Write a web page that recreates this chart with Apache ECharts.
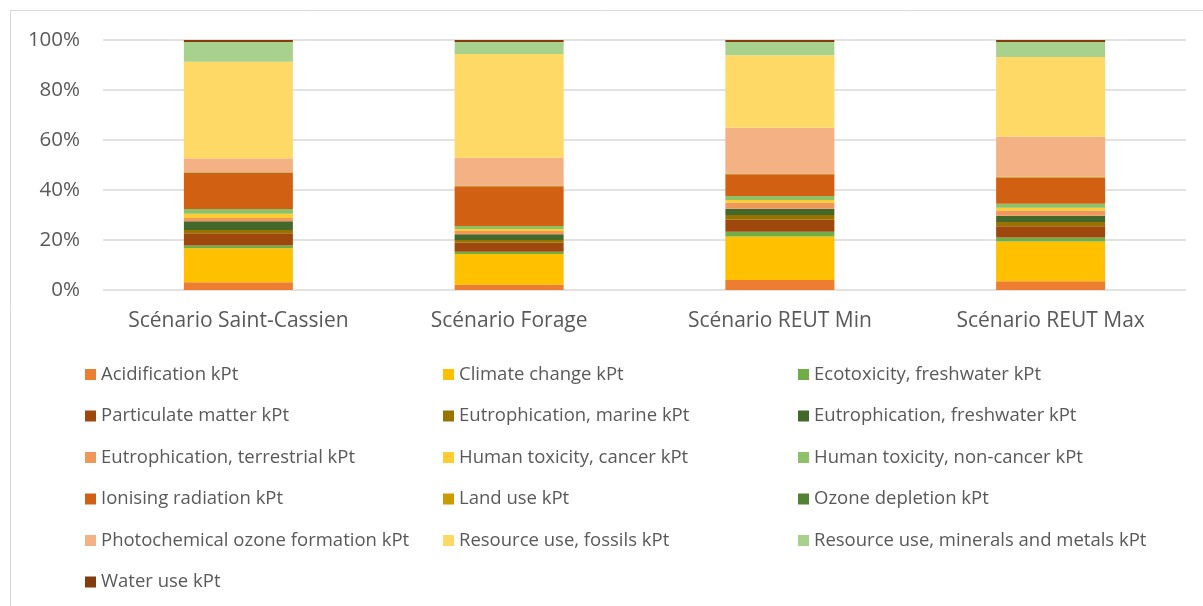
<!DOCTYPE html>
<html>
<head>
<meta charset="utf-8">
<script src="https://cdn.jsdelivr.net/npm/echarts@6/dist/echarts.min.js"></script>
<style>
  html, body { margin: 0; padding: 0; background: #fff; }
  #chart { width: 1203px; height: 606px; }
</style>
</head>
<body>
<div id="chart"></div>
<script>
// scenarios on the x axis
const scenarios = ['Scénario Saint-Cassien', 'Scénario Forage', 'Scénario REUT Min', 'Scénario REUT Max'];

// impact categories, in stacking order (bottom to top)
const impacts = [
  'Acidification kPt', 'Climate change kPt', 'Ecotoxicity, freshwater kPt',
  'Particulate matter kPt', 'Eutrophication, marine kPt', 'Eutrophication, freshwater kPt',
  'Eutrophication, terrestrial kPt', 'Human toxicity, cancer kPt', 'Human toxicity, non-cancer kPt',
  'Ionising radiation kPt', 'Land use kPt', 'Ozone depletion kPt',
  'Photochemical ozone formation kPt', 'Resource use, fossils kPt', 'Resource use, minerals and metals kPt',
  'Water use kPt'
];

// share of each impact (%) per scenario
const acidification   = [3.1, 2.1, 4.0, 3.5];
const climateChange   = [13.6, 12.3, 17.4, 15.9];
const ecotoxicity     = [1.1, 0.9, 1.9, 1.6];
const particulate     = [4.9, 3.6, 4.9, 4.5];
const eutroMarine     = [1.3, 1.1, 1.9, 1.7];
const eutroFresh      = [3.5, 2.3, 2.5, 2.5];
const eutroTerr       = [1.3, 1.3, 2.4, 2.1];
const toxCancer       = [1.7, 0.8, 1.1, 1.1];
const toxNonCancer    = [1.9, 1.3, 1.6, 1.6];
const ionising        = [14.4, 15.9, 8.7, 10.5];
const landUse         = [0.2, 0.2, 0.2, 0.2];
const ozoneDepletion  = [0.1, 0.1, 0.1, 0.1];
const photochemical   = [5.7, 11.1, 18.3, 16.0];
const fossils         = [38.6, 41.6, 29.1, 31.9];
const minerals        = [7.9, 4.8, 5.3, 6.0];
const waterUse        = [0.8, 0.8, 0.8, 0.8];

const yTicks = [0, 20, 40, 60, 80, 100];

const values = [acidification, climateChange, ecotoxicity, particulate, eutroMarine, eutroFresh,
  eutroTerr, toxCancer, toxNonCancer, ionising, landUse, ozoneDepletion,
  photochemical, fossils, minerals, waterUse];

const colors = ['#ED7D31', '#FFC000', '#70AD47', '#9E480E', '#997300', '#43682B',
  '#F1975A', '#FFCD33', '#8CC168', '#D26012', '#CC9A00', '#548235',
  '#F4B183', '#FFD966', '#A9D18E', '#843C0C'];

const font = '"Open Sans", "Noto Sans", sans-serif';

const chart = echarts.init(document.getElementById('chart'));

// normalise each scenario to 100%
const totals = scenarios.map((_, i) => values.reduce((s, arr) => s + arr[i], 0));

const series = impacts.map((name, k) => ({
  name: name,
  type: 'bar',
  stack: 'total',
  barWidth: 109,
  itemStyle: { color: colors[k] },
  emphasis: { disabled: true },
  data: values[k].map((v, i) => v / totals[i] * 100)
}));

// one legend per entry: 3 columns, filled row by row
const colLeft = [80, 438, 793];
const legends = impacts.map((name, k) => ({
  left: colLeft[k % 3],
  top: 360 + Math.floor(k / 3) * 41.5,
  itemWidth: 11,
  itemHeight: 11,
  icon: 'rect',
  selectedMode: false,
  textStyle: { fontFamily: font, fontSize: 18.5, color: '#595959' },
  data: [name]
}));

chart.setOption({
  animation: false,
  color: colors,
  graphic: [{
    type: 'rect',
    shape: { x: 10.5, y: 10.5, width: 1200, height: 600 },
    style: { fill: 'none', stroke: '#d9d9d9', lineWidth: 1 }
  }],
  grid: { left: 103, right: 17, top: 40, height: 250 },
  legend: legends,
  xAxis: {
    type: 'category',
    data: scenarios,
    axisLine: { show: false },
    axisTick: { show: false },
    axisLabel: { interval: 0, fontFamily: font, fontSize: 21, color: '#595959', margin: 21 }
  },
  yAxis: {
    type: 'value',
    min: yTicks[0],
    max: yTicks[yTicks.length - 1],
    interval: 20,
    axisLine: { show: false },
    axisTick: { show: false },
    splitLine: { lineStyle: { color: '#d9d9d9', width: 1.5 } },
    axisLabel: { fontFamily: font, fontSize: 20.5, color: '#595959', margin: 23, formatter: '{value}%' }
  },
  series: series
});
</script>
</body>
</html>
